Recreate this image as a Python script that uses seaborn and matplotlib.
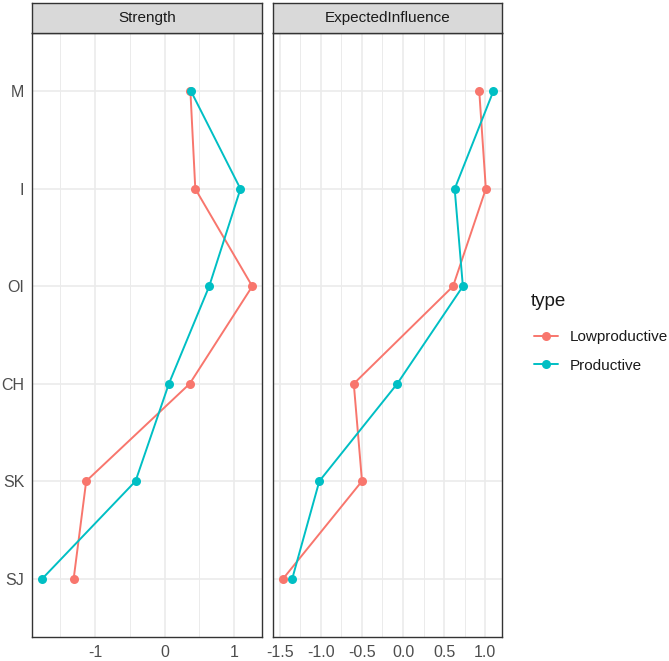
import numpy as np
import pandas as pd
import matplotlib
matplotlib.use("Agg")
import matplotlib.pyplot as plt
import seaborn as sns
from matplotlib.ticker import MultipleLocator
from matplotlib.lines import Line2D

# ---- data ----
nodes = ["SJ", "SK", "CH", "OI", "I", "M"]          # bottom -> top
measures = ["Strength", "ExpectedInfluence"]
types = ["Lowproductive", "Productive"]
colors = ["#F8766D", "#00BFC4"]

strength_low = [-1.31, -1.13, 0.36, 1.26, 0.44, 0.37]
strength_prod = [-1.76, -0.42, 0.06, 0.64, 1.09, 0.38]
ei_low = [-1.46, -0.50, -0.60, 0.61, 1.01, 0.93]
ei_prod = [-1.35, -1.02, -0.07, 0.73, 0.63, 1.10]

values = {
    ("Strength", "Lowproductive"): strength_low,
    ("Strength", "Productive"): strength_prod,
    ("ExpectedInfluence", "Lowproductive"): ei_low,
    ("ExpectedInfluence", "Productive"): ei_prod,
}

rows = []
for m in measures:
    for t in types:
        for i, n in enumerate(nodes):
            rows.append({"measure": m, "type": t, "node": n,
                         "pos": i + 1, "value": values[(m, t)][i]})
df = pd.DataFrame(rows)

sns.set_style("white")
plt.rcParams["font.family"] = ["Liberation Sans", "DejaVu Sans"]

W, H = 669, 661
fig = plt.figure(figsize=(W / 100, H / 100), dpi=100)

def fx(px):
    return px / W

def fy(py):
    return 1 - py / H

panels = [
    ("Strength", 32, 262, (-1.91, 1.40), 0.5, ["-1", "0", "1"], [-1, 0, 1]),
    ("ExpectedInfluence", 273, 502, (-1.585, 1.207), 0.25,
     ["-1.5", "-1.0", "-0.5", "0.0", "0.5", "1.0"], [-1.5, -1.0, -0.5, 0.0, 0.5, 1.0]),
]
top, bottom, strip_top = 33, 637, 3
grid_col = "#EBEBEB"
border_col = "#333333"

for idx, (meas, x0, x1, xlim, mnr, tlabels, tvals) in enumerate(panels):
    ax = fig.add_axes([fx(x0), fy(bottom), fx(x1 - x0), (bottom - top) / H])
    sub = df[df["measure"] == meas]
    sns.lineplot(data=sub, x="value", y="pos", hue="type", hue_order=types,
                 palette=colors, orient="y", sort=True, estimator=None,
                 marker="o", markersize=6.5, markeredgewidth=0, linewidth=1.4,
                 legend=False, ax=ax, zorder=3)
    ax.set_xlim(*xlim)
    ax.set_ylim(0.4, len(nodes) + 0.6)
    ax.set_xticks(tvals)
    ax.set_xticklabels(tlabels)
    ax.xaxis.set_minor_locator(MultipleLocator(mnr))
    ax.set_yticks(range(1, len(nodes) + 1))
    if idx == 0:
        ax.set_yticklabels(nodes)
    else:
        ax.set_yticklabels([])
        ax.tick_params(axis="y", length=0)
    ax.grid(True, which="major", color=grid_col, linewidth=1.2, zorder=0)
    ax.grid(True, which="minor", axis="x", color=grid_col, linewidth=0.7, zorder=0)
    ax.set_axisbelow(True)
    ax.set_xlabel("")
    ax.set_ylabel("")
    for s in ax.spines.values():
        s.set_color(border_col)
        s.set_linewidth(1.0)
    ax.tick_params(axis="both", which="major", direction="out", length=3.5,
                   width=0.8, color=border_col, labelsize=11.5,
                   labelcolor="#4D4D4D", pad=2)
    ax.tick_params(axis="x", which="minor", length=0)
    ax.set_facecolor("white")

    # facet strip
    sax = fig.add_axes([fx(x0), fy(top), fx(x1 - x0), (top - strip_top) / H])
    sax.set_facecolor("#D9D9D9")
    sax.set_xticks([])
    sax.set_yticks([])
    for s in sax.spines.values():
        s.set_color(border_col)
        s.set_linewidth(1.0)
    sax.text(0.5, 0.5, meas, ha="center", va="center", fontsize=11,
             color="#1A1A1A", transform=sax.transAxes)

handles = [Line2D([0], [0], color=c, marker="o", markersize=6.5,
                  markeredgewidth=0, linewidth=1.4) for c in colors]
leg = fig.legend(handles, types, loc="center left",
                 bbox_to_anchor=(fx(520), fy(351.5)), frameon=False,
                 fontsize=11, handlelength=1.6,
                 handletextpad=0.75, labelspacing=0.93)
for t in leg.get_texts():
    t.set_color("#1A1A1A")
fig.text(fx(531), fy(306), "type", ha="left", va="baseline",
         fontsize=13.5, color="#1A1A1A")

fig.savefig("out.png", dpi=100)
